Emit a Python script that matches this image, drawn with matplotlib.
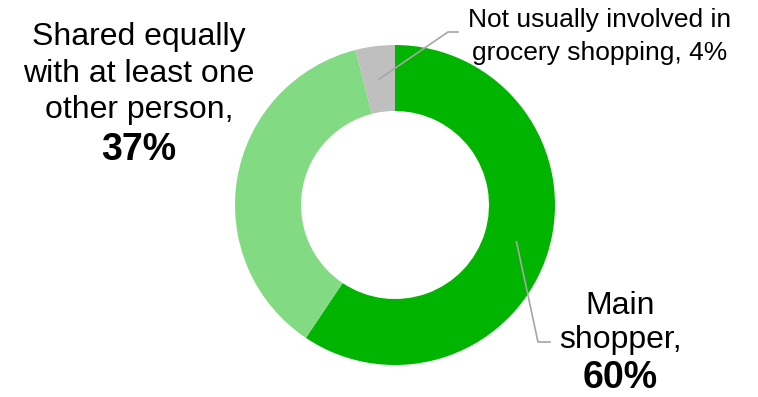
import numpy as np
import matplotlib
matplotlib.use('Agg')
import matplotlib.pyplot as plt

plt.rcParams['font.family'] = ['Liberation Sans', 'DejaVu Sans']

categories = ['Main shopper', 'Shared equally with at least one other person',
              'Not usually involved in grocery shopping']
values = [60, 37, 4]
colors = ['#00B400', '#82DA82', '#BFBFBF']

W, H = 758, 397
fig = plt.figure(figsize=(W / 100, H / 100), dpi=100)
ax = fig.add_axes([0, 0, 1, 1])

cx, cy, r_out, r_in = 395, 205, 160, 94
# y axis is inverted, so counterclock=True draws clockwise on screen;
# startangle=-90 puts the first wedge's start at the top
wedges, _ = ax.pie(values, colors=colors, center=(cx, cy), radius=r_out,
                   startangle=-90, counterclock=True,
                   wedgeprops=dict(width=r_out - r_in, linewidth=0),
                   frame=True)
ax.set_xlim(0, W)
ax.set_ylim(H, 0)
ax.set_aspect('equal')
ax.axis('off')


def mid_point(w):
    ang = np.deg2rad((w.theta1 + w.theta2) / 2)
    rm = (r_out + r_in) / 2
    return cx + rm * np.cos(ang), cy + rm * np.sin(ang)


def draw_lines(x, base, pitches, lines, sizes, bolds):
    y = base
    for i, (txt, s, b) in enumerate(zip(lines, sizes, bolds)):
        ax.text(x, y, txt, ha='center', va='baseline', fontsize=s,
                fontweight='bold' if b else 'normal', color='black')
        if i < len(pitches):
            y += pitches[i]


# leader lines
lc = '#A6A6A6'
mx, my = mid_point(wedges[0])
ax.plot([mx, 538, 550], [my, 342, 342], color=lc, lw=1.2)
gx, gy = mid_point(wedges[2])
ax.plot([gx, 448, 458], [gy, 32, 32], color=lc, lw=1.2)

draw_lines(139, 45, [37, 36, 42],
           ['Shared equally', 'with at least one', 'other person,', f'{values[1]}%'],
           [23, 23, 23, 27], [False, False, False, True])
draw_lines(620, 314, [34, 40],
           ['Main', 'shopper,', f'{values[0]}%'],
           [23, 23, 27], [False, False, True])
draw_lines(600, 27, [33],
           ['Not usually involved in', f'grocery shopping, {values[2]}%'],
           [19, 19], [False, False])

fig.savefig('out.png', dpi=100)
